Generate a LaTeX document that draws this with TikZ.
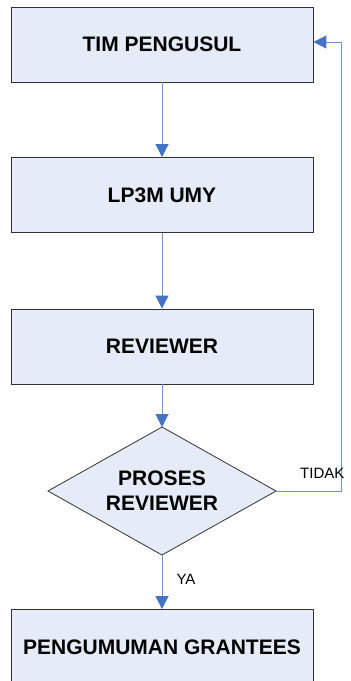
\documentclass[tikz,border=0pt]{standalone}
\usepackage{fontspec}
\setmainfont{Liberation Sans}
\usetikzlibrary{arrows.meta}
\definecolor{boxfill}{RGB}{230,236,247}
\definecolor{boxline}{RGB}{50,50,50}
\definecolor{conn}{RGB}{110,146,210}
\definecolor{tipc}{RGB}{68,114,196}
\begin{document}
\begin{tikzpicture}[x=1pt,y=-1pt,
  stepbox/.style={draw=boxline,line width=0.9pt,fill=boxfill,minimum width=302pt,minimum height=75pt,inner sep=0pt,font=\fontsize{21}{25}\selectfont\bfseries},
  decide/.style={draw=boxline,line width=0.8pt,fill=boxfill},
  dtext/.style={inner sep=0pt,align=center,font=\fontsize{21}{25}\selectfont\bfseries},
  conn/.style={draw=conn,line width=1pt,-{Triangle[width=13pt,length=13pt,color=tipc]}},
  lbl/.style={font=\fontsize{15}{18}\selectfont,inner sep=0pt}]
\useasboundingbox (0,0) rectangle (351,681);
\clip (0,0) rectangle (351,681);
\node[stepbox] (tim) at (162,44.5) {TIM PENGUSUL};
\node[stepbox] (lp) at (162,195) {LP3M UMY};
\node[stepbox] (rev) at (162,346.5) {REVIEWER};
\coordinate (prN) at (162,427);
\coordinate (prS) at (162,555);
\coordinate (prW) at (48,491);
\coordinate (prE) at (276,491);
\draw[decide] (prN) -- (prE) -- (prS) -- (prW) -- cycle;
\node[dtext] (pr) at (162,491) {PROSES\\REVIEWER};
\node[stepbox] (peng) at (162,647) {PENGUMUMAN GRANTEES};
\draw[conn] (tim.south) -- (lp.north);
\draw[conn] (lp.south) -- (rev.north);
\draw[conn] (rev.south) -- (prN);
\draw[conn] (prS) -- (peng.north) node[lbl,pos=0.45,right=14pt] (ya) {YA};
\coordinate (c1) at (341,491);
\coordinate (c2) at (341,42);
\draw[conn] (prE) -- (c1) -- (c2) -- (tim.east |- c2);
\node[lbl,anchor=base west] (tidak) at (300,478) {TIDAK};
\end{tikzpicture}
\end{document}
